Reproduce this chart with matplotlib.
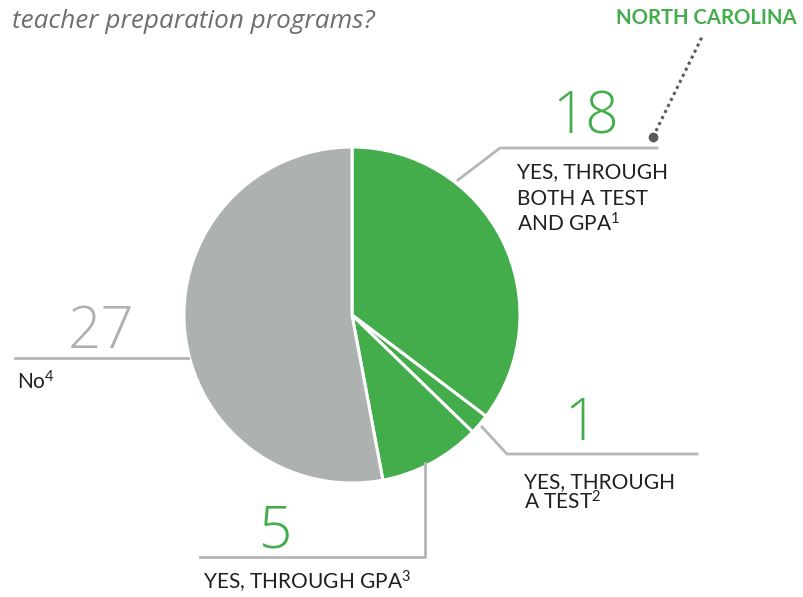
import matplotlib
matplotlib.use("Agg")
import matplotlib.pyplot as plt

plt.rcParams["mathtext.fontset"] = "custom"
plt.rcParams["mathtext.rm"] = "Lato"
plt.rcParams["mathtext.it"] = "Lato:italic"
plt.rcParams["mathtext.bf"] = "Lato:bold"
plt.rcParams["mathtext.default"] = "rm"

# Data
categories = ["YES, THROUGH\nBOTH A TEST\nAND GPA$^{1}$", "YES, THROUGH\nA TEST$^{2}$",
              "YES, THROUGH GPA$^{3}$", "No$^{4}$"]
values = [18, 1, 5, 27]
GREEN = "#42ad4a"
GRAY = "#adb2b1"
colors = [GREEN, GREEN, GREEN, GRAY]
value_colors = [GREEN, GREEN, GREEN, GRAY]
LINE = "#b3b7b6"
TEXT = "#231f20"

W, H = 804, 597
fig = plt.figure(figsize=(W / 100, H / 100), dpi=100)
ax = fig.add_axes([0, 0, 1, 1])

def Y(y):
    return H - y

ax.pie(values, colors=colors, startangle=90, counterclock=False,
       center=(352, Y(315)), radius=168,
       wedgeprops=dict(edgecolor="white", linewidth=2.2))
ax.set_xlim(0, W)
ax.set_ylim(0, H)
ax.set_aspect("auto")
ax.axis("off")

fam = ["Lato", "DejaVu Sans"]

# Title (partial)
ax.text(12, Y(21), "teacher preparation programs?", fontsize=18.8, style="italic",
        color="#6d6e70", family=["Open Sans", "DejaVu Sans"], va="center", ha="left")

# North Carolina callout
ax.text(797, Y(18), "NORTH CAROLINA", fontsize=14.6, fontweight="bold", color=GREEN,
        family=fam, va="center", ha="right")
ax.plot([653, 702], [Y(137), Y(37)], color="#5a5a5a", lw=2.2, ls=(0, (1, 1.2)))
ax.plot([653], [Y(137)], "o", color="#5a5a5a", ms=6)

# Leader lines
ax.plot([458, 500, 657], [Y(180), Y(148), Y(148)], color=LINE, lw=2)
ax.plot([15, 188], [Y(358), Y(358)], color=LINE, lw=2)
ax.plot([482, 507, 697], [Y(427), Y(454), Y(454)], color=LINE, lw=2)
ax.plot([425, 425, 200], [Y(463), Y(557), Y(557)], color=LINE, lw=2)

# Big numbers
num_kw = dict(fontsize=42, family=["Open Sans", "DejaVu Sans"], fontweight=300,
              va="baseline", ha="left")
ax.text(552, Y(133), str(values[0]), color=value_colors[0], **num_kw)
ax.text(564, Y(440), str(values[1]), color=value_colors[1], **num_kw)
ax.text(259, Y(548), str(values[2]), color=value_colors[2], **num_kw)
ax.text(68, Y(348), str(values[3]), color=value_colors[3], **num_kw)

# Category labels, one text per line (baseline of first line, line step in px)
lab_kw = dict(fontsize=15, family=fam, color=TEXT, va="baseline", ha="left")
label_layout = [(517, 178, 27), (524, 488, 22), (203, 590, 27), (17, 390, 27)]
for cat, (x0, b0, step) in zip(categories, label_layout):
    for i, line in enumerate(cat.split("\n")):
        ax.text(x0, Y(b0 + i * step), line, **lab_kw)

fig.savefig("out.png", dpi=100)
